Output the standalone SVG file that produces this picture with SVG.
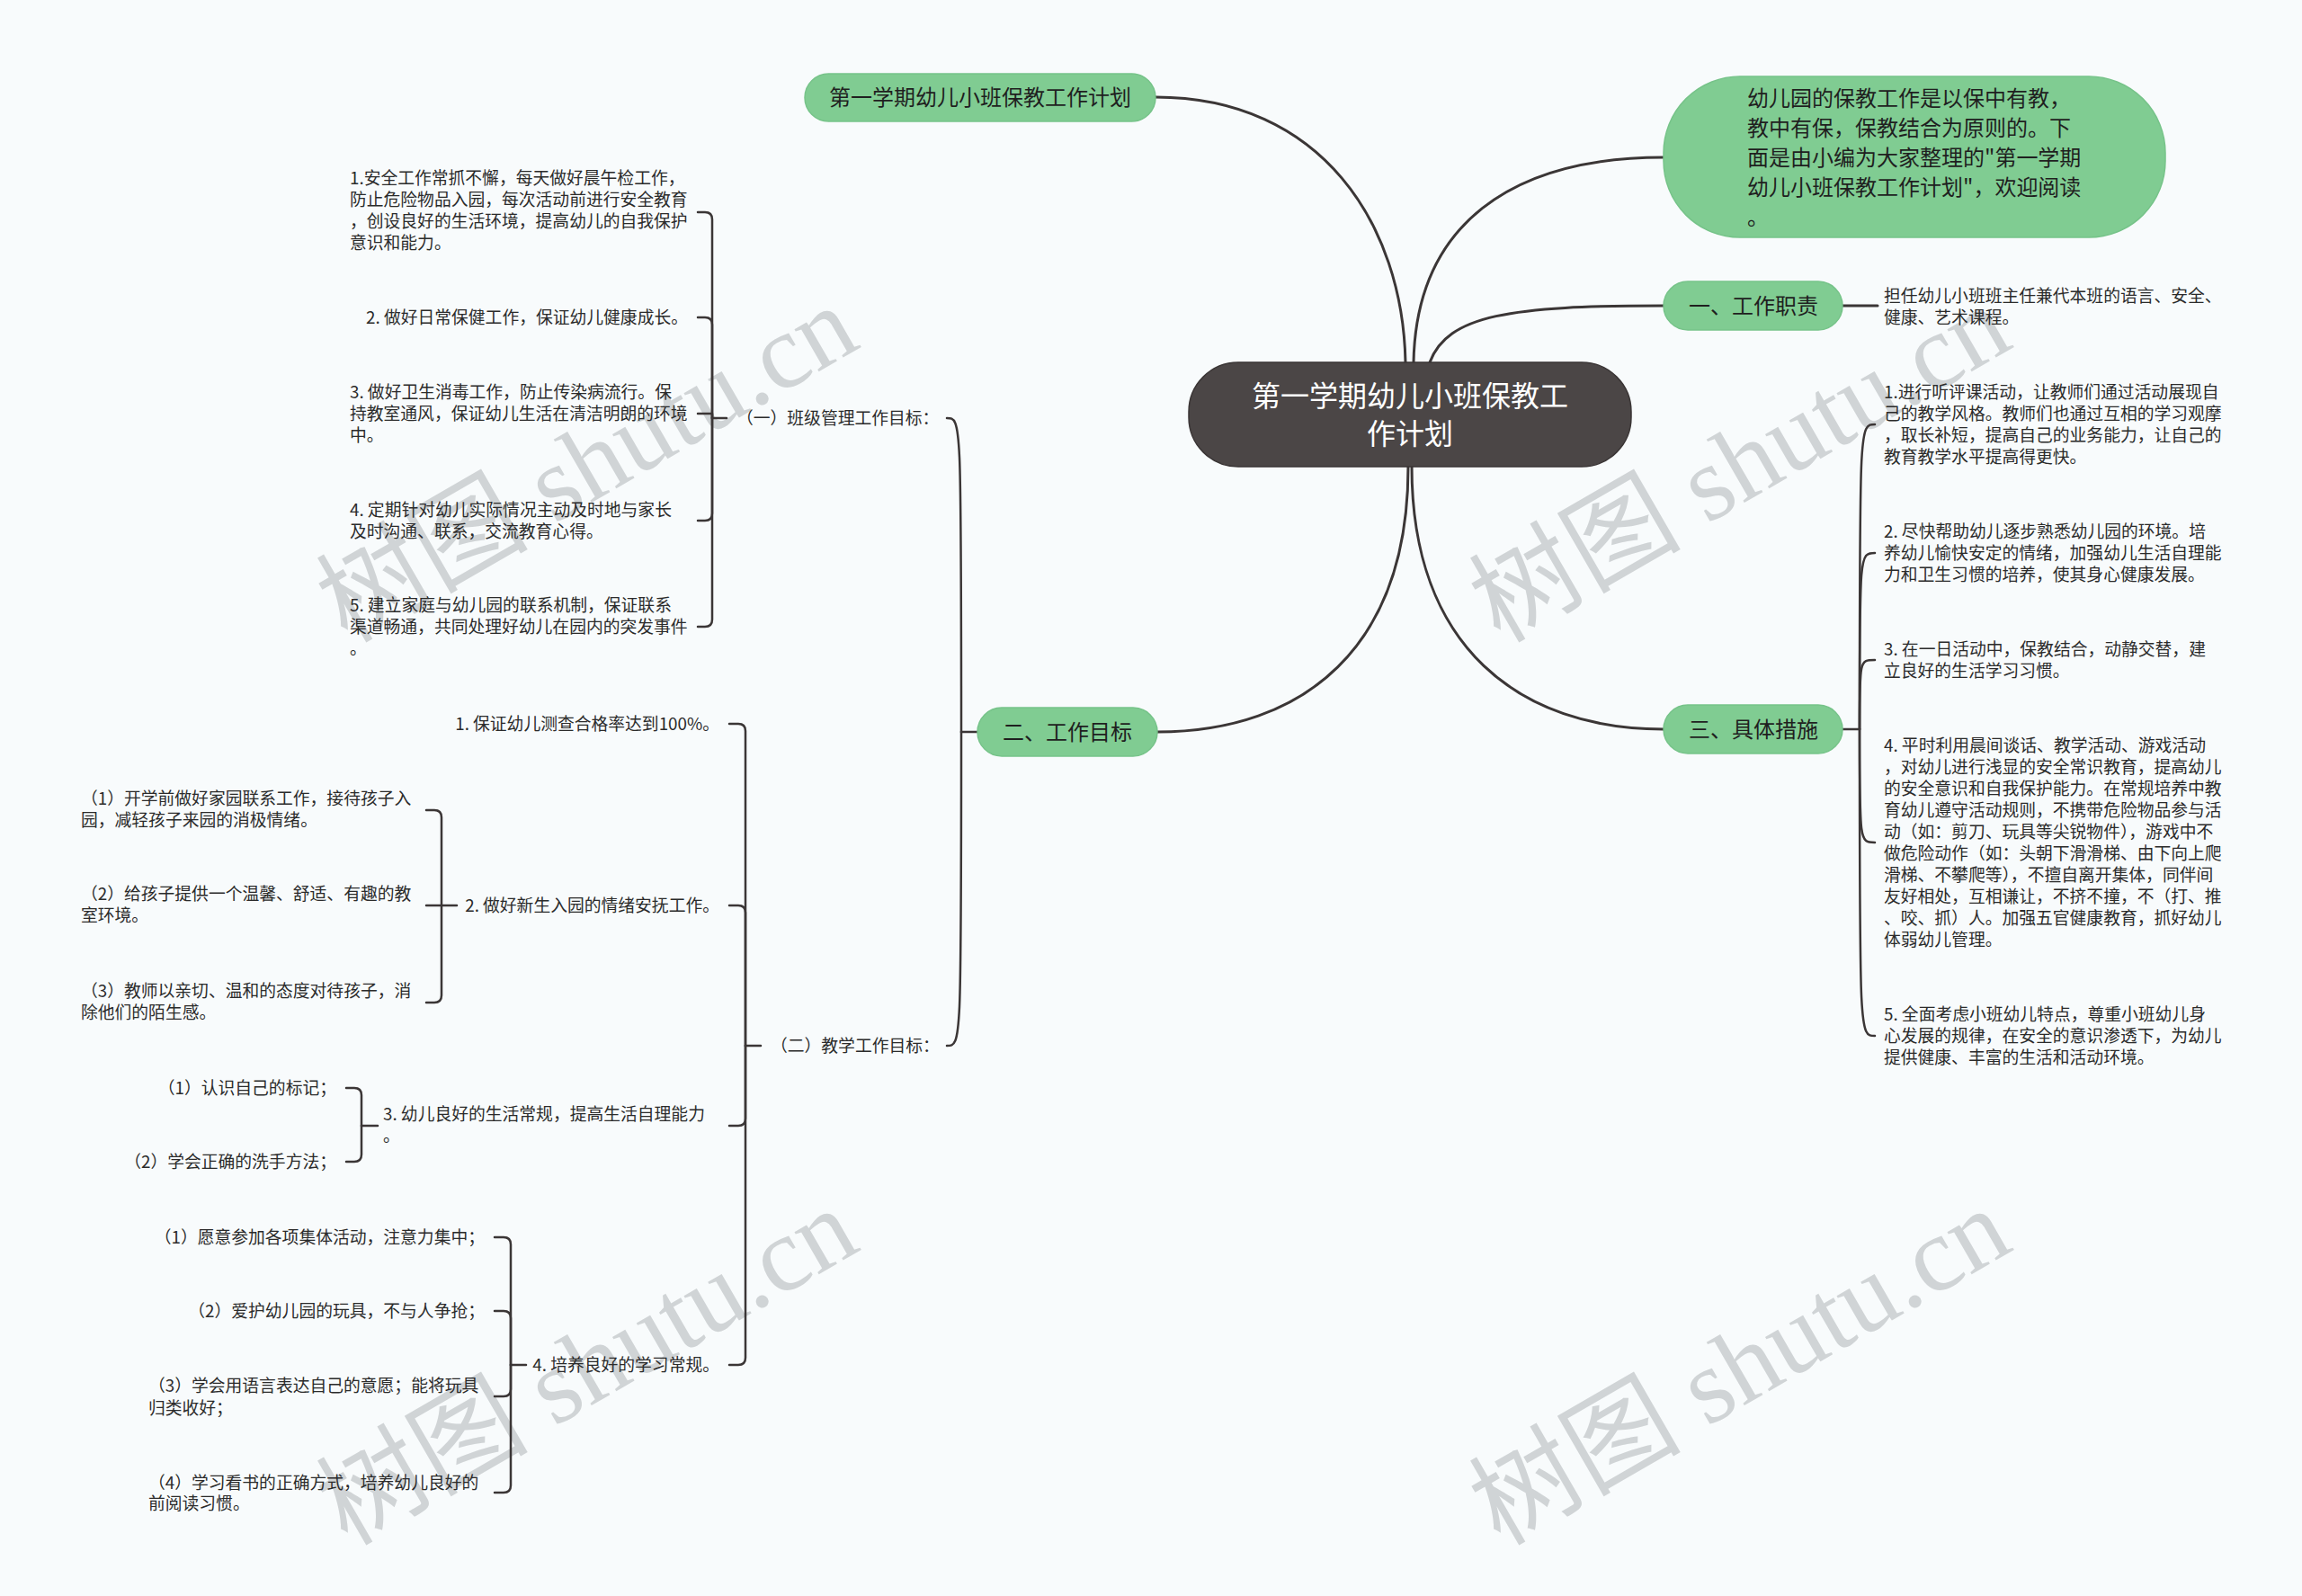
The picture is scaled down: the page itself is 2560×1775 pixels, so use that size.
<svg xmlns="http://www.w3.org/2000/svg" width="2560" height="1775" viewBox="0 0 2560 1775">
<style>
.bg{fill:#f8fbfc}
.wm{font-family:"Liberation Serif","Noto Sans CJK SC",serif;font-size:118px;fill:#d0d4d6}
.green{fill:#80cc92;stroke:#76c389;stroke-width:1.5}
.root{fill:#4b4646;stroke:#3a3535;stroke-width:1.5}
.t{font-family:"Noto Sans CJK SC","Noto Sans",sans-serif;font-size:18.8px;fill:#2b2b2b}
.tn{font-family:"Noto Sans CJK SC","Noto Sans",sans-serif;font-size:24px;fill:#1f1f1f}
.tr{font-family:"Noto Sans CJK SC","Noto Sans",sans-serif;font-size:32px;fill:#ffffff}
.c{fill:none;stroke:#3b3636;stroke-width:3;stroke-linecap:round}
.b{fill:none;stroke:#3b3636;stroke-width:2.5;stroke-linecap:round;stroke-linejoin:round}
</style>
<rect class="bg" x="0" y="0" width="2560" height="1775"/>

<g id="watermarks">
<text class="wm" transform="translate(386,716) rotate(-30)">树图 shutu.cn</text>
<text class="wm" transform="translate(1668,716) rotate(-30)">树图 shutu.cn</text>
<text class="wm" transform="translate(386,1720) rotate(-30)">树图 shutu.cn</text>
<text class="wm" transform="translate(1668,1720) rotate(-30)">树图 shutu.cn</text>
</g>

<g id="connectors">
<!-- root curves -->
<path class="c" d="M1563 403 C1560 250 1470 108 1285 108"/>
<path class="c" d="M1572 403 C1575 250 1680 175 1850 175"/>
<path class="c" d="M1590 403 C1610 350 1680 340 1850 340"/>
<path class="c" d="M1566 519 C1566 720 1450 814 1287 814"/>
<path class="c" d="M1570 519 C1570 720 1690 811 1850 811"/>
<!-- 工作职责 child -->
<path class="c" d="M2049 340 L2088 340"/>
<!-- 三、具体措施 children -->
<path class="b" d="M2049 811 L2068 811"/>
<path class="b" d="M2068 811 C2068 472 2068 472 2085 472"/>
<path class="b" d="M2068 811 C2068 615 2068 615 2085 615"/>
<path class="b" d="M2068 811 C2068 734 2068 734 2085 734"/>
<path class="b" d="M2068 811 C2068 937 2068 937 2085 937"/>
<path class="b" d="M2068 811 C2068 1152 2068 1152 2085 1152"/>
<!-- 二、工作目标 children -->
<path class="b" d="M1087 814 L1069 814"/>
<path class="b" d="M1069 814 C1069 465 1069 465 1053 465"/>
<path class="b" d="M1069 814 C1069 1163 1069 1163 1053 1163"/>
<!-- (一) bracket -->
<path class="b" d="M808 465 L792 465"/>
<path class="b" d="M792 465 L792 244 Q792 236 784 236 L776 236"/>
<path class="b" d="M792 465 L792 361 Q792 353 784 353 L776 353"/>
<path class="b" d="M792 465 L792 460 L776 460"/>
<path class="b" d="M792 465 L792 571 Q792 579 784 579 L776 579"/>
<path class="b" d="M792 465 L792 689 Q792 697 784 697 L776 697"/>
<!-- (二) bracket -->
<path class="b" d="M846 1163 L829 1163"/>
<path class="b" d="M829 1163 L829 813 Q829 805 821 805 L811 805"/>
<path class="b" d="M829 1163 L829 1015 Q829 1007 821 1007 L811 1007"/>
<path class="b" d="M829 1163 L829 1244 Q829 1252 821 1252 L811 1252"/>
<path class="b" d="M829 1163 L829 1510 Q829 1518 821 1518 L811 1518"/>
<!-- item 2 sub bracket -->
<path class="b" d="M508 1007 L491 1007"/>
<path class="b" d="M491 1007 L491 909 Q491 901 483 901 L474 901"/>
<path class="b" d="M491 1007 L474 1007"/>
<path class="b" d="M491 1007 L491 1107 Q491 1115 483 1115 L474 1115"/>
<!-- item 3 sub bracket -->
<path class="b" d="M420 1252 L402 1252"/>
<path class="b" d="M402 1252 L402 1218 Q402 1210 394 1210 L385 1210"/>
<path class="b" d="M402 1252 L402 1284 Q402 1292 394 1292 L385 1292"/>
<!-- item 4 sub bracket -->
<path class="b" d="M585 1518 L568 1518"/>
<path class="b" d="M568 1518 L568 1384 Q568 1376 560 1376 L550 1376"/>
<path class="b" d="M568 1518 L568 1466 Q568 1458 560 1458 L550 1458"/>
<path class="b" d="M568 1518 L568 1545 Q568 1553 560 1553 L550 1553"/>
<path class="b" d="M568 1518 L568 1652 Q568 1660 560 1660 L550 1660"/>
</g>

<g id="root">
<rect class="root" x="1322" y="403" width="492" height="116" rx="55"/>
<text class="tr" x="1568" y="452" text-anchor="middle">第一学期幼儿小班保教工</text>
<text class="tr" x="1568" y="494" text-anchor="middle">作计划</text>
</g>

<g id="node-title">
<rect class="green" x="895" y="82" width="390" height="53" rx="26.5"/>
<text class="tn" x="1090" y="117" text-anchor="middle">第一学期幼儿小班保教工作计划</text>
</g>

<g id="node-intro">
<rect class="green" x="1850" y="85" width="558" height="179" rx="85"/>
<text class="tn" x="1943" y="118">幼儿园的保教工作是以保中有教，</text>
<text class="tn" x="1943" y="151">教中有保，保教结合为原则的。下</text>
<text class="tn" x="1943" y="184">面是由小编为大家整理的"第一学期</text>
<text class="tn" x="1943" y="217">幼儿小班保教工作计划"，欢迎阅读</text>
<text class="tn" x="1943" y="250">。</text>
</g>

<g id="node-duty">
<rect class="green" x="1850" y="313" width="199" height="54" rx="27"/>
<text class="tn" x="1950" y="349" text-anchor="middle">一、工作职责</text>
</g>
<g id="duty-1">
<text class="t" x="2095" y="336">担任幼儿小班班主任兼代本班的语言、安全、</text>
<text class="t" x="2095" y="360">健康、艺术课程。</text>
</g>

<g id="node-measures">
<rect class="green" x="1850" y="784" width="199" height="54" rx="27"/>
<text class="tn" x="1950" y="820" text-anchor="middle">三、具体措施</text>
</g>
<g id="measure-1">
<text class="t" x="2095" y="443">1.进行听评课活动，让教师们通过活动展现自</text>
<text class="t" x="2095" y="467">己的教学风格。教师们也通过互相的学习观摩</text>
<text class="t" x="2095" y="491">，取长补短，提高自己的业务能力，让自己的</text>
<text class="t" x="2095" y="515">教育教学水平提高得更快。</text>
</g>
<g id="measure-2">
<text class="t" x="2095" y="598">2. 尽快帮助幼儿逐步熟悉幼儿园的环境。培</text>
<text class="t" x="2095" y="622">养幼儿愉快安定的情绪，加强幼儿生活自理能</text>
<text class="t" x="2095" y="646">力和卫生习惯的培养，使其身心健康发展。</text>
</g>
<g id="measure-3">
<text class="t" x="2095" y="729">3. 在一日活动中，保教结合，动静交替，建</text>
<text class="t" x="2095" y="753">立良好的生活学习习惯。</text>
</g>
<g id="measure-4">
<text class="t" x="2095" y="836">4. 平时利用晨间谈话、教学活动、游戏活动</text>
<text class="t" x="2095" y="860">，对幼儿进行浅显的安全常识教育，提高幼儿</text>
<text class="t" x="2095" y="884">的安全意识和自我保护能力。在常规培养中教</text>
<text class="t" x="2095" y="908">育幼儿遵守活动规则，不携带危险物品参与活</text>
<text class="t" x="2095" y="932">动（如：剪刀、玩具等尖锐物件），游戏中不</text>
<text class="t" x="2095" y="956">做危险动作（如：头朝下滑滑梯、由下向上爬</text>
<text class="t" x="2095" y="980">滑梯、不攀爬等），不擅自离开集体，同伴间</text>
<text class="t" x="2095" y="1004">友好相处，互相谦让，不挤不撞，不（打、推</text>
<text class="t" x="2095" y="1028">、咬、抓）人。加强五官健康教育，抓好幼儿</text>
<text class="t" x="2095" y="1052">体弱幼儿管理。</text>
</g>
<g id="measure-5">
<text class="t" x="2095" y="1135">5. 全面考虑小班幼儿特点，尊重小班幼儿身</text>
<text class="t" x="2095" y="1159">心发展的规律，在安全的意识渗透下，为幼儿</text>
<text class="t" x="2095" y="1183">提供健康、丰富的生活和活动环境。</text>
</g>

<g id="node-goals">
<rect class="green" x="1087" y="787" width="200" height="54" rx="27"/>
<text class="tn" x="1187" y="823" text-anchor="middle">二、工作目标</text>
</g>

<g id="goal-class">
<text class="t" x="819" y="472">（一）班级管理工作目标：</text>
</g>
<g id="class-1">
<text class="t" x="389" y="205">1.安全工作常抓不懈，每天做好晨午检工作，</text>
<text class="t" x="389" y="229">防止危险物品入园，每次活动前进行安全教育</text>
<text class="t" x="389" y="253">，创设良好的生活环境，提高幼儿的自我保护</text>
<text class="t" x="389" y="277">意识和能力。</text>
</g>
<g id="class-2">
<text class="t" x="765" y="360" text-anchor="end">2. 做好日常保健工作，保证幼儿健康成长。</text>
</g>
<g id="class-3">
<text class="t" x="389" y="443">3. 做好卫生消毒工作，防止传染病流行。保</text>
<text class="t" x="389" y="467">持教室通风，保证幼儿生活在清洁明朗的环境</text>
<text class="t" x="389" y="491">中。</text>
</g>
<g id="class-4">
<text class="t" x="389" y="574">4. 定期针对幼儿实际情况主动及时地与家长</text>
<text class="t" x="389" y="598">及时沟通、联系，交流教育心得。</text>
</g>
<g id="class-5">
<text class="t" x="389" y="680">5. 建立家庭与幼儿园的联系机制，保证联系</text>
<text class="t" x="389" y="704">渠道畅通，共同处理好幼儿在园内的突发事件</text>
<text class="t" x="389" y="728">。</text>
</g>

<g id="goal-teach">
<text class="t" x="857" y="1170">（二）教学工作目标：</text>
</g>
<g id="teach-1">
<text class="t" x="800" y="812" text-anchor="end">1. 保证幼儿测查合格率达到100%。</text>
</g>
<g id="teach-2">
<text class="t" x="800" y="1014" text-anchor="end">2. 做好新生入园的情绪安抚工作。</text>
</g>
<g id="teach-2-1">
<text class="t" x="90" y="895">（1）开学前做好家园联系工作，接待孩子入</text>
<text class="t" x="90" y="919">园，减轻孩子来园的消极情绪。</text>
</g>
<g id="teach-2-2">
<text class="t" x="90" y="1001">（2）给孩子提供一个温馨、舒适、有趣的教</text>
<text class="t" x="90" y="1025">室环境。</text>
</g>
<g id="teach-2-3">
<text class="t" x="90" y="1109">（3）教师以亲切、温和的态度对待孩子，消</text>
<text class="t" x="90" y="1133">除他们的陌生感。</text>
</g>
<g id="teach-3">
<text class="t" x="426" y="1246">3. 幼儿良好的生活常规，提高生活自理能力</text>
<text class="t" x="426" y="1270">。</text>
</g>
<g id="teach-3-1">
<text class="t" x="374" y="1217" text-anchor="end">（1）认识自己的标记；</text>
</g>
<g id="teach-3-2">
<text class="t" x="374" y="1299" text-anchor="end">（2）学会正确的洗手方法；</text>
</g>
<g id="teach-4">
<text class="t" x="800" y="1525" text-anchor="end">4. 培养良好的学习常规。</text>
</g>
<g id="teach-4-1">
<text class="t" x="539" y="1383" text-anchor="end">（1）愿意参加各项集体活动，注意力集中；</text>
</g>
<g id="teach-4-2">
<text class="t" x="539" y="1465" text-anchor="end">（2）爱护幼儿园的玩具，不与人争抢；</text>
</g>
<g id="teach-4-3">
<text class="t" x="165" y="1548">（3）学会用语言表达自己的意愿；能将玩具</text>
<text class="t" x="165" y="1573">归类收好；</text>
</g>
<g id="teach-4-4">
<text class="t" x="165" y="1656">（4）学习看书的正确方式，培养幼儿良好的</text>
<text class="t" x="165" y="1679">前阅读习惯。</text>
</g>
</svg>
